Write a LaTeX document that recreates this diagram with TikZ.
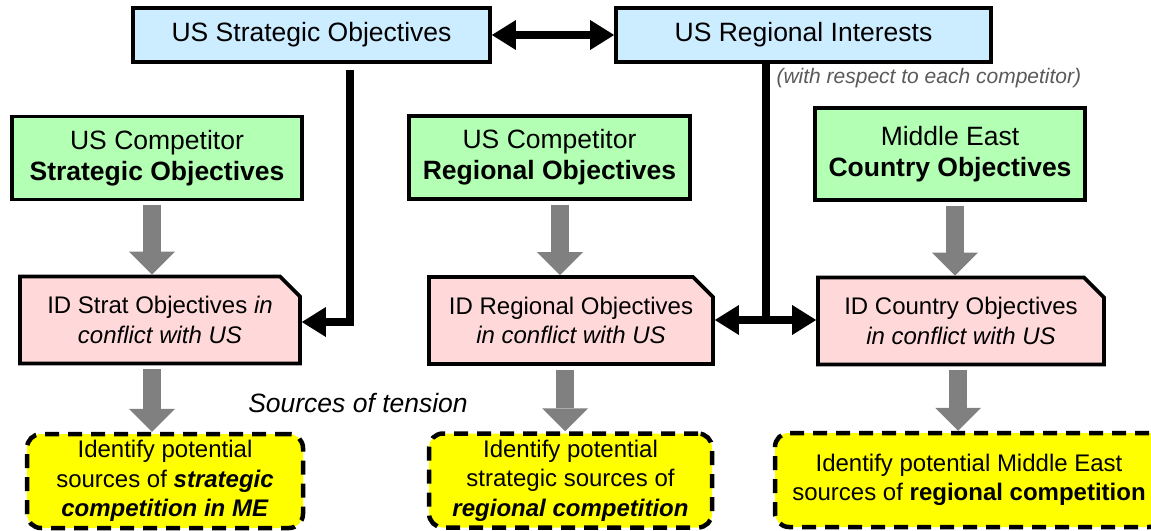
\documentclass[tikz,border=0pt]{standalone}
\usepackage{fontspec}
\setmainfont{Liberation Sans}
\usetikzlibrary{arrows.meta,shapes.misc}

\definecolor{usblue}{RGB}{204,236,255}
\definecolor{compgreen}{RGB}{179,255,179}
\definecolor{idpink}{RGB}{255,217,217}
\definecolor{srcyellow}{RGB}{255,255,0}
\definecolor{notegray}{RGB}{90,90,90}
\definecolor{flowgray}{RGB}{128,128,128}

\tikzset{
  bigtxt/.style={font=\fontsize{26.5}{31}\selectfont},
  midtxt/.style={font=\fontsize{24}{29.5}\selectfont},
  usbox/.style={draw, line width=3.8pt, fill=usblue, bigtxt, minimum height=54pt, inner sep=0pt},
  compbox/.style={draw, line width=3.8pt, fill=compgreen, bigtxt, align=center, minimum height=83pt, inner sep=0pt},
  idbox/.style={chamfered rectangle, chamfered rectangle corners=north east,
    chamfered rectangle xsep=10pt, chamfered rectangle ysep=10pt,
    draw, line width=3.8pt, fill=idpink, midtxt, align=center, minimum height=87pt, inner sep=0pt},
  srcbox/.style={draw, line width=4.5pt, dash pattern=on 14pt off 9pt, rounded corners=14pt,
    fill=srcyellow, midtxt, align=center, minimum height=94pt, inner sep=0pt},
  link/.style={line width=7.5pt},
  flow/.style={line width=18pt, draw=flowgray, shorten <=4pt,
    -{Triangle[length=23pt,width=46pt,line width=0pt]}},
}

\begin{document}
\begin{tikzpicture}[x=1pt,y=-1pt,>={Triangle[length=24pt,width=30pt,line width=0pt]}]
    \useasboundingbox (0,0) rectangle (1151,530);

    % top row
    \node[usbox, minimum width=357pt] (usstrat) at (311.5,35) {US Strategic Objectives};
    \node[usbox, minimum width=375pt] (usreg) at (803.5,35) {US Regional Interests};
    \node[anchor=west, text=notegray, font=\itshape\fontsize{21}{25}\selectfont] (resp) at (773,78) {(with respect to each competitor)};

    % objectives
    \node[compbox, minimum width=290pt] (cstrat) at (157,158) {US Competitor\\\textbf{Strategic Objectives}};
    \node[compbox, minimum width=281pt] (creg) at (549.5,157.5) {US Competitor\\\textbf{Regional Objectives}};
    \node[compbox, minimum width=270pt, minimum height=92pt] (cctry) at (950,154) {Middle East\\\textbf{Country Objectives}};

    % conflicts
    \node[idbox, minimum width=280pt] (idstrat) at (160,320) {ID Strat Objectives \textit{in}\\\textit{conflict with US}};
    \node[idbox, minimum width=284pt] (idreg) at (571,320.5) {ID Regional Objectives\\\textit{in conflict with US}};
    \node[idbox, minimum width=286pt] (idctry) at (961,321) {ID Country Objectives\\\textit{in conflict with US}};

    \node[bigtxt, font=\itshape\fontsize{26.5}{31}\selectfont] (tension) at (358,403) {Sources of tension};

    % sources
    \node[srcbox, minimum width=276pt] (srcstrat) at (165,481) {Identify potential\\sources of \textbf{\textit{strategic}}\\\textbf{\textit{competition in ME}}};
    \node[srcbox, minimum width=283pt] (srcreg) at (570.5,480.5) {Identify potential\\strategic sources of\\\textbf{\textit{regional competition}}};
    \node[srcbox, minimum width=388pt] (srcctry) at (969,480) {Identify potential Middle East\\sources of \textbf{regional competition}};

    % black connectors
    \coordinate (ja) at (350,322);
    \coordinate (jb) at (766,320);
    \draw[link, <->] (usstrat) -- (usreg);
    \draw[link, ->, shorten <=6pt] (usstrat.south -| ja) -- (ja) -- (ja -| idstrat.east);
    \draw[link] (usreg.south -| jb) -- (jb);
    \draw[link, <->] (jb -| idreg.east) -- (jb -| idctry.west);

    % gray flow arrows
    \foreach \a/\b/\x in {cstrat/idstrat/152, idstrat/srcstrat/152, creg/idreg/560,
                          idreg/srcreg/565, cctry/idctry/955, idctry/srcctry/958}
        \draw[flow] (\a.south -| \x,0) -- (\b.north -| \x,0);
\end{tikzpicture}
\end{document}
